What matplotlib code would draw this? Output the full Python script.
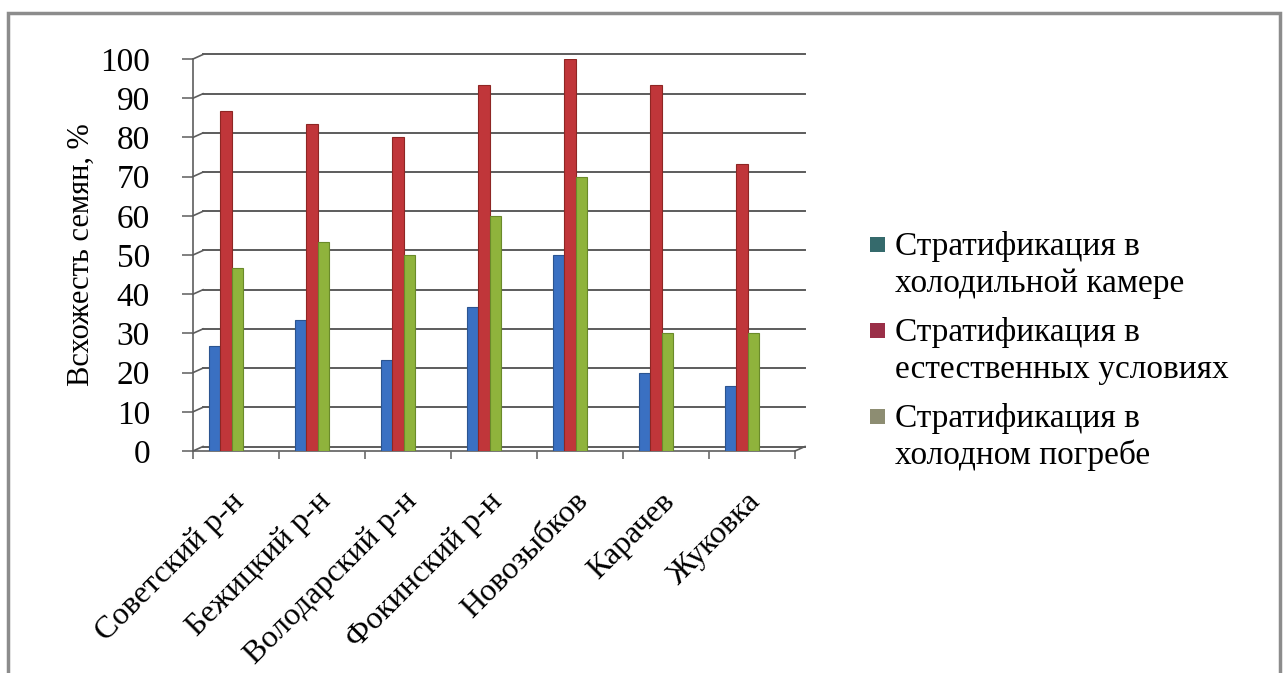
import matplotlib
matplotlib.use("Agg")
import matplotlib.pyplot as plt
import numpy as np
from matplotlib.patches import Rectangle
from matplotlib.lines import Line2D
from matplotlib.transforms import ScaledTranslation

plt.rcParams['font.family'] = ['Liberation Serif', 'DejaVu Serif']

# Germination of seeds by district and stratification method
categories = ["Советский р-н", "Бежицкий р-н", "Володарский р-н", "Фокинский р-н",
              "Новозыбков", "Карачев", "Жуковка"]
fridge = [26.7, 33.3, 23.3, 36.7, 50.0, 20.0, 16.7]
natural = [86.7, 83.3, 80.0, 93.3, 100.0, 93.3, 73.3]
cellar = [46.7, 53.3, 50.0, 60.0, 70.0, 30.0, 30.0]
series_names = ["Стратификация в\nхолодильной камере",
                "Стратификация в\nестественных условиях",
                "Стратификация в\nхолодном погребе"]
yticks = list(range(0, 101, 10))
ylabel = "Всхожесть семян, %"

bar_colors = ["#3a70c2", "#c0363a", "#8fb33c"]
edge_colors = ["#2b5490", "#8e2624", "#6a8a2a"]
key_colors = ["#356a6c", "#9a2f48", "#8d8d72"]

W, H, DPI = 12.83, 6.73, 100
fig = plt.figure(figsize=(W, H), dpi=DPI)
PXW, PXH = W * DPI, H * DPI

ax = fig.add_axes([193 / PXW, (PXH - 451) / PXH, 602 / PXW, 392 / PXH])
ax.set_xlim(-0.5, len(categories) - 0.5)
ax.set_ylim(0, 100)
ax.patch.set_alpha(0)

# back wall gridlines, shifted up/right to suggest depth
depth = ScaledTranslation(10 / DPI, 4.5 / DPI, fig.dpi_scale_trans)
grid_trans = ax.transData + depth
for v in yticks:
    ax.plot([-0.5, len(categories) - 0.5], [v, v], color="#5c5c5c", lw=1.4,
            transform=grid_trans, zorder=1, clip_on=False)

# short diagonals joining the front frame to the back wall
fig.canvas.draw()
def diag(x, y):
    p0 = ax.transData.transform((x, y))
    p1 = p0 + np.array([10, 4.5])
    fig.add_artist(Line2D([p0[0], p1[0]], [p0[1], p1[1]], transform=None,
                          color="#5c5c5c", lw=1.2, zorder=1))
for v in yticks:
    diag(-0.5, v)
diag(len(categories) - 0.5, 0)

x = np.arange(len(categories))
bw = 0.13
shift = -0.116
for i, vals in enumerate([fridge, natural, cellar]):
    ax.bar(x + shift + (i - 1) * bw, vals, width=bw, color=bar_colors[i],
           edgecolor=edge_colors[i], linewidth=0.8, zorder=3)

for s in ["top", "right"]:
    ax.spines[s].set_visible(False)
for s in ["left", "bottom"]:
    ax.spines[s].set_color("#6a6a6a")
    ax.spines[s].set_linewidth(1.3)

ax.set_yticks(yticks)
ax.set_yticklabels([str(v) for v in yticks], fontsize=24)
ax.tick_params(axis="y", direction="out", length=8, width=1.2, color="#6a6a6a", pad=23)

ax.set_xticks(np.arange(-0.5, len(categories), 1.0), minor=False)
ax.set_xticklabels([])
ax.tick_params(axis="x", direction="out", length=6, width=1.2, color="#6a6a6a")
for i, name in enumerate(categories):
    ax.annotate(name, xy=(i, 0), xycoords="data", xytext=(-6, -36),
                textcoords="offset pixels", rotation=45, ha="right", va="top",
                rotation_mode="anchor", fontsize=23)

ax.set_ylabel(ylabel, fontsize=22, labelpad=3)

# legend drawn as keys plus two-line captions
for i, name in enumerate(series_names):
    base = 255 + 86 * i
    fig.add_artist(Rectangle((870 / PXW, (PXH - base + 3) / PXH), 15 / PXW, 15 / PXH,
                             transform=fig.transFigure, facecolor=key_colors[i],
                             edgecolor="none"))
    for j, line in enumerate(name.split("\n")):
        fig.text(895 / PXW, (PXH - base - 37 * j) / PXH, line, fontsize=24,
                 ha="left", va="baseline")

# outer chart frame
fig.add_artist(Rectangle((8 / PXW, -0.02), (1280 - 8) / PXW, (PXH - 13) / PXH + 0.02,
                         transform=fig.transFigure, fill=False,
                         edgecolor="#8c8c8c", lw=2.5))

fig.savefig("out.png", dpi=DPI)
